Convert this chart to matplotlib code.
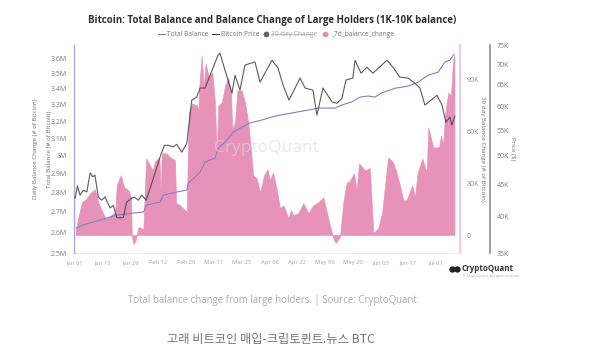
import matplotlib
matplotlib.use("Agg")
import matplotlib.pyplot as plt
from matplotlib.lines import Line2D
from matplotlib.ticker import FixedLocator, NullLocator, NullFormatter

plt.rcParams['font.family'] = ['Open Sans', 'DejaVu Sans']

# days since Jan 01
change_days = [0.3,1.7,3.4,5.9,7.6,10,11.7,13.4,15.6,16.8,20.2,21,23,24.7,26.9,28.2,28.6,29.4,30.6,31.9,34.4,35.8,37.8,39.1,40.3,42.5,43.1,43.7,46.2,47.9,50.4,50.9,52.9,55.4,56.3,56.9,57.4,58.9,61.5,62.2,62.5,63.8,64.8,65.8,67.2,69.2,70.5,71.4,72.2,73.9,75.6,77.2,78.6,79.2,80.6,81.8,84,85.6,87.3,89.8,91.5,93.2,95.3,97,98.2,99.8,101.5,103.3,105,107.5,108.8,110,112.5,115,117.6,120.1,122.6,125.1,127.6,130.1,131.3,133.5,135.2,136.9,138,140.6,141.9,143.1,146.1,148.6,150.3,152.8,154.8,156.2,157.8,160.3,162,163.7,165.4,167.1,169.9,171.3,172.6,175,177.2,178,180.5,183.4,184.4,185.5,186.4,188.1,189.4,190.6,191.2]
change_7d = [2.9,10.4,19,21.3,24.2,26.5,19,14.4,9.2,10.4,13.3,28.9,34.6,27.7,26,21.9,-1.2,-5.2,-2.9,4.6,3.5,44.4,40.4,37.5,42.7,45,24.2,47.3,47.3,45,43.3,18.5,17.3,14.4,13.3,51.9,71,76.2,75,71,84.8,103.9,86.5,99.2,92.3,94,76.7,47.9,75,76.7,86.5,91.2,82.5,61.7,65.2,83.7,83.7,76.7,65.2,34.6,32.9,24.8,34.6,38.1,31.7,36.4,27.1,15.6,17.3,9.8,14.4,11.5,12.7,18.5,12.7,17.3,19,21.9,9.8,-1.7,-4.6,-1.2,19,30.6,30.6,35.8,26,41.5,37.5,38.7,1.2,4,13.3,28.9,45,42.1,36.4,28.9,20.2,20.2,28.9,21.9,35.8,44.4,36.4,62.3,50.8,50.8,57.7,51.9,69.2,82.5,80.8,102.1,104]

balance_days = [0.5,4.2,12.6,21,29.4,34.4,36.1,42.8,44.5,51.2,56.3,57.1,60.5,63,65.5,70.5,72.2,75.6,79.7,84,88.2,94,100.8,105.8,109.2,117.5,122.6,131,134.4,139.4,143.6,147.8,151.1,154.5,161.2,167.9,172.9,178,183,186.4,188.9,191]
balance_m = [2.62,2.635,2.659,2.684,2.694,2.699,2.735,2.75,2.786,2.802,2.813,2.85,2.882,2.909,2.964,2.986,3.043,3.077,3.134,3.164,3.189,3.206,3.23,3.242,3.249,3.267,3.279,3.279,3.298,3.317,3.347,3.354,3.347,3.373,3.403,3.417,3.442,3.488,3.507,3.574,3.587,3.627]

price_days = [0,1.2,2.5,4.2,5.9,7.6,8.9,10,11.7,13.4,15.1,17.6,19.3,21,22.2,24.3,26,28.6,29.9,31.9,33.6,35.8,37.8,40.3,42.8,45,47,49.5,51.2,53.8,56.3,58.8,61.3,63,65.5,69.5,72,73,76.6,79.1,80.6,83.1,85.6,88.2,90.7,93.2,99.2,102.3,104.8,107.8,113.4,115.9,119.9,121.9,124.9,129.5,132,134.5,136.5,140,141.1,144.1,147.1,150.1,157.2,160.2,163.7,167.8,171.3,173.8,176.3,182.4,184.9,186.9,188.9,189.9,191.4]
price_k = [42.8,44.8,43.3,44.1,43.8,47,46.3,46.6,43,42.5,43,41.3,41.7,39.9,39.8,39.9,42.2,42.8,43,42.5,43.3,42.5,44.4,47,49.8,52,52,51.7,52.2,50.7,52.4,61.4,62.1,64.2,64.2,69.1,72.4,73,66.8,63,67.3,63.7,69.8,70.3,70.6,65.6,71.1,69.1,64.9,61.4,66.6,64.2,63.7,58.1,64.2,61,60.7,61.8,66.1,66.6,71.1,67.8,69.3,67.8,71.1,69.3,66.8,66.6,65.3,64.2,60.3,62.5,60.3,56.6,57.7,56,57.9]

date_ticks = [0,14,28,42,56,70,84,98,112,126,140,154,168,182]
date_labels = ["Jan 01","Jan 15","Jan 29","Feb 12","Feb 26","Mar 11","Mar 25","Apr 08","Apr 22","May 06","May 20","Jun 03","Jun 17","Jul 01"]
balance_ticks = [2.5,2.6,2.7,2.8,2.9,3.0,3.1,3.2,3.3,3.4,3.5,3.6]
balance_labels = ["2.5M","2.6M","2.7M","2.8M","2.9M","3M","3.1M","3.2M","3.3M","3.4M","3.5M","3.6M"]
change_ticks = [0,30,60,90]
change_labels = ["0","30K","60K","90K"]
price_ticks = [35,40,45,50,55,60,65,70,75]
price_labels = ["35K","40K","45K","50K","55K","60K","65K","70K","75K"]

W, H = 613, 355
fig = plt.figure(figsize=(W/100, H/100), dpi=100)
L, R, T, B = 73.5, 460, 45, 253
ax_change = fig.add_axes([L/W, 1-B/H, (R-L)/W, (B-T)/H])
ax_bal = ax_change.twinx()
ax_price = ax_change.twinx()
for a, z in ((ax_change, 1), (ax_bal, 2), (ax_price, 3)):
    a.set_zorder(z)
    a.patch.set_visible(False)
    for s in a.spines.values():
        s.set_visible(False)

PINK = '#E68DB5'
ax_change.fill_between(change_days, change_7d, 0, color=PINK, lw=0.4, alpha=0.95)
ax_change.set_xlim(-0.8, 194)
ax_change.set_ylim(-10.4, 110)
ax_change.set_xticks(date_ticks, date_labels)
ax_change.tick_params(axis='x', length=0, labelsize=4.2, labelcolor='#a5a5a5', pad=5)
ax_change.yaxis.tick_right()
ax_change.set_yticks(change_ticks, change_labels)
ax_change.tick_params(axis='y', length=0, labelsize=5, labelcolor='#8a8a8a', pad=5, right=False, left=False, labelright=True, labelleft=False)
ax_change.spines['right'].set_visible(True)
ax_change.spines['right'].set_color('#F2BFD6')
ax_change.spines['right'].set_linewidth(1.2)
ax_change.spines['bottom'].set_visible(True)
ax_change.spines['bottom'].set_color('#ececec')
ax_change.spines['bottom'].set_linewidth(0.7)

ax_bal.plot(balance_days, balance_m, color='#8080C8', lw=0.8)
ax_bal.set_yscale('log')
ax_bal.set_ylim(2.5, 3.69)
ax_bal.yaxis.tick_left()
ax_bal.yaxis.set_major_locator(FixedLocator(balance_ticks))
ax_bal.set_yticklabels(balance_labels)
ax_bal.yaxis.set_minor_locator(NullLocator())
ax_bal.yaxis.set_minor_formatter(NullFormatter())
ax_bal.tick_params(axis='y', length=0, labelsize=5, labelcolor='#7a7a7a', pad=5)
ax_bal.spines['left'].set_visible(True)
ax_bal.spines['left'].set_color('#A9A9E0')
ax_bal.spines['left'].set_linewidth(1.0)

ax_price.plot(price_days, price_k, color='#3f3f3f', lw=0.8, alpha=0.85)
ax_price.set_yscale('log')
ax_price.set_ylim(35, 75.2)
ax_price.yaxis.tick_right()
ax_price.yaxis.set_major_locator(FixedLocator(price_ticks))
ax_price.set_yticklabels(price_labels)
ax_price.yaxis.set_minor_locator(NullLocator())
ax_price.yaxis.set_minor_formatter(NullFormatter())
ax_price.tick_params(axis='y', length=0, labelsize=5, labelcolor='#7a7a7a', pad=5)
ax_price.spines['right'].set_visible(True)
ax_price.spines['right'].set_position(('outward', 21.6))
ax_price.spines['right'].set_color('#8e8e8e')
ax_price.spines['right'].set_linewidth(1.2)

def px(x, y):
    return x/W, 1-y/H

def label(x, y, s, **kw):
    kw.setdefault('ha', 'center')
    kw.setdefault('va', 'center')
    fig.text(*px(x, y), s, **kw)

label(272.5, 20, "Bitcoin: Total Balance and Balance Change of Large Holders (1K-10K balance)",
      fontsize=7.0, fontweight='bold', color='#2f2f2f')

# legend
for x0, x1, c in ((158, 165, '#777777'), (212, 219, '#333333')):
    fig.add_artist(Line2D([x0/W, x1/W], [1-34/H]*2, color=c, lw=0.7))
label(167, 34, "Total Balance", ha='left', fontsize=4.8, color='#777777')
label(221, 34, "Bitcoin Price", ha='left', fontsize=4.8, color='#777777')
label(271, 34, "30-day Change", ha='left', fontsize=4.8, color='#aaaaaa')
fig.add_artist(Line2D([271/W, 314/W], [1-34/H]*2, color='#aaaaaa', lw=0.5))
label(331, 34, "_7d_balance_change", ha='left', fontsize=4.8, color='#777777')
fig.add_artist(Line2D([265.5/W], [1-34/H], marker='o', ms=4.2, mew=0, color='#666666'))
fig.add_artist(Line2D([325/W], [1-34/H], marker='o', ms=4.2, mew=0, color=PINK))

# axis titles
label(35, 149, "Daily Balance Change (# of Bitcoin)", rotation=90, fontsize=4.5, color='#6f6f6f')
label(49, 149, "Total Balance (# of Bitcoin)", rotation=90, fontsize=4.5, color='#6f6f6f')
label(482, 149, "30 day Balance Change (# of Bitcoin)", rotation=270, fontsize=4.5, color='#6f6f6f')
label(512, 149, "Price ($)", rotation=270, fontsize=4.5, color='#6f6f6f')

# watermark
label(266, 148, "CryptoQuant", fontsize=12.5, color='#d9d9d9', alpha=0.6, zorder=10)

# logo
label(462, 268.5, "CryptoQuant", ha='left', fontsize=5.8, fontweight='bold', color='#333333')
label(463, 276, "© CryptoQuant. All rights reserved.", ha='left', fontsize=2.5, color='#aaaaaa')
fig.add_artist(Line2D([451.5/W, 456.5/W], [1-268.5/H]*2, ls='', marker='o', ms=4.6, mew=0, color='#222222'))

# captions
label(272.5, 300, "Total balance change from large holders. | Source: CryptoQuant",
      fontsize=6.9, color='#ababab')
label(270.5, 339, "고래 비트코인 매입-크립토퀸트.뉴스 BTC", fontsize=8.8, color='#777777',
      family=['Noto Sans CJK KR', 'DejaVu Sans'])

fig.savefig("out.png", dpi=100)
